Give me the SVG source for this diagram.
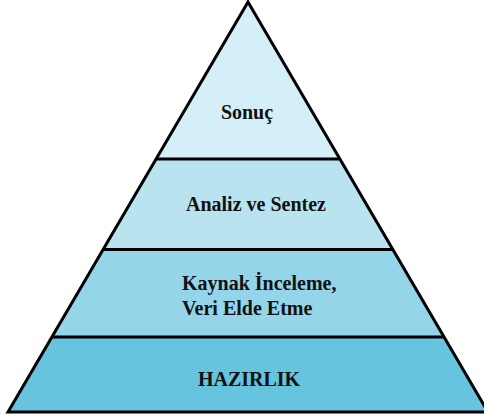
<svg xmlns="http://www.w3.org/2000/svg" width="484" height="417" viewBox="0 0 484 417">
<style>
.t{font-family:"Liberation Serif","Times New Roman",serif;font-weight:bold;font-size:20px;fill:#111;}
.ln{stroke:#000;stroke-width:3;fill:none;}
</style>
<rect width="484" height="417" fill="#fff"/>
<g id="sonuc">
<polygon points="248,2 339.9,159 156.1,159" fill="#d4eff7"/>
<text class="t" x="247" y="119" text-anchor="middle">Sonuç</text>
</g>
<g id="analiz">
<polygon points="156.1,159 339.9,159 392.9,249.5 103.1,249.5" fill="#b8e3ef"/>
<text class="t" x="256" y="211" text-anchor="middle">Analiz ve Sentez</text>
</g>
<g id="kaynak">
<polygon points="103.1,249.5 392.9,249.5 444.1,337 51.9,337" fill="#95d5e9"/>
<text class="t" x="182" y="290">Kaynak İnceleme,</text>
<text class="t" x="182" y="315">Veri Elde Etme</text>
</g>
<g id="hazirlik">
<polygon points="51.9,337 444.1,337 488,412 8,412" fill="#66c4de"/>
<text class="t" x="249" y="386" text-anchor="middle">HAZIRLIK</text>
</g>
<g id="connectors">
<polygon class="ln" points="248,2 488,412 8,412"/>
<line class="ln" x1="156.1" y1="159" x2="339.9" y2="159"/>
<line class="ln" x1="103.1" y1="249.5" x2="392.9" y2="249.5"/>
<line class="ln" x1="51.9" y1="337" x2="444.1" y2="337"/>
</g>
</svg>
